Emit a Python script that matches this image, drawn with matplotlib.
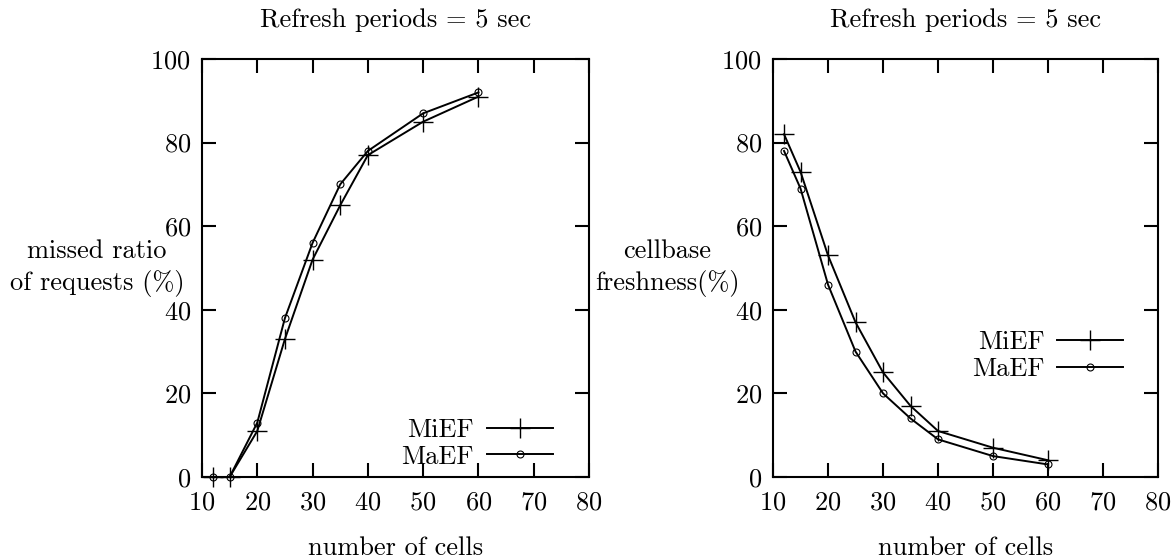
import matplotlib
matplotlib.use("Agg")
import matplotlib.pyplot as plt

plt.rcParams["font.family"] = "cmr10"
plt.rcParams["mathtext.fontset"] = "cm"
plt.rcParams["axes.unicode_minus"] = False
plt.rcParams["axes.formatter.use_mathtext"] = True

cells = [12, 15, 20, 25, 30, 35, 40, 50, 60]

# left panel: missed ratio of requests (%)
missed_mief = [0, 0, 11, 33, 52, 65, 77, 85, 91]
missed_maef = [0, 0, 13, 38, 56, 70, 78, 87, 92]

# right panel: cellbase freshness (%)
fresh_mief = [82, 73, 53, 37, 25, 17, 11, 7, 4]
fresh_maef = [78, 69, 46, 30, 20, 14, 9, 5, 3]

title = "Refresh periods = 5 sec"
xlabel = "number of cells"
xticks = [10, 20, 30, 40, 50, 60, 70, 80]
yticks = [0, 20, 40, 60, 80, 100]

FS = 19

fig = plt.figure(figsize=(11.75, 5.59), dpi=100)
ax1 = fig.add_axes([0.1719, 0.1467, 0.3294, 0.7478])
ax2 = fig.add_axes([0.6579, 0.1467, 0.3277, 0.7478])


def style(ax, y_mief, y_maef, ylabel, ylab_x, leg_anchor):
    ax.plot(cells, y_mief, color="black", lw=1.4, marker="+", ms=15, mew=1.0,
            label="MiEF", clip_on=False)
    ax.plot(cells, y_maef, color="black", lw=1.4, marker="o", ms=5, mew=0.8,
            mfc="none", label="MaEF", clip_on=False)
    ax.set_xlim(10, 80)
    ax.set_ylim(0, 100)
    ax.set_xticks(xticks)
    ax.set_yticks(yticks)
    ax.tick_params(direction="in", length=10, width=1.5, top=True, right=True,
                   labelsize=FS)
    ax.tick_params(axis="x", pad=10)
    ax.tick_params(axis="y", pad=8)
    for sp in ax.spines.values():
        sp.set_linewidth(1.5)
    ax.text(0.5, 1.093, title, transform=ax.transAxes, ha="center",
            va="center", fontsize=FS)
    ax.set_xlabel(xlabel, fontsize=FS, va="center")
    ax.xaxis.set_label_coords(0.5, -0.17)
    ax.set_ylabel(ylabel, fontsize=FS, rotation=0, ha="center", va="center",
                  linespacing=1.35)
    ax.yaxis.set_label_coords(ylab_x, 0.5)
    ax.legend(loc="lower right", bbox_to_anchor=leg_anchor, frameon=False,
              markerfirst=False, fontsize=FS, handlelength=2.5,
              handletextpad=0.5, labelspacing=0.1, borderaxespad=0,
              borderpad=0)


style(ax1, missed_mief, missed_maef, "missed ratio\nof requests (%)",
      -0.271, (0.907, 0.02))
style(ax2, fresh_mief, fresh_maef, "cellbase\nfreshness(%)",
      -0.275, (0.91, 0.23))

fig.savefig("out.png", dpi=100)
